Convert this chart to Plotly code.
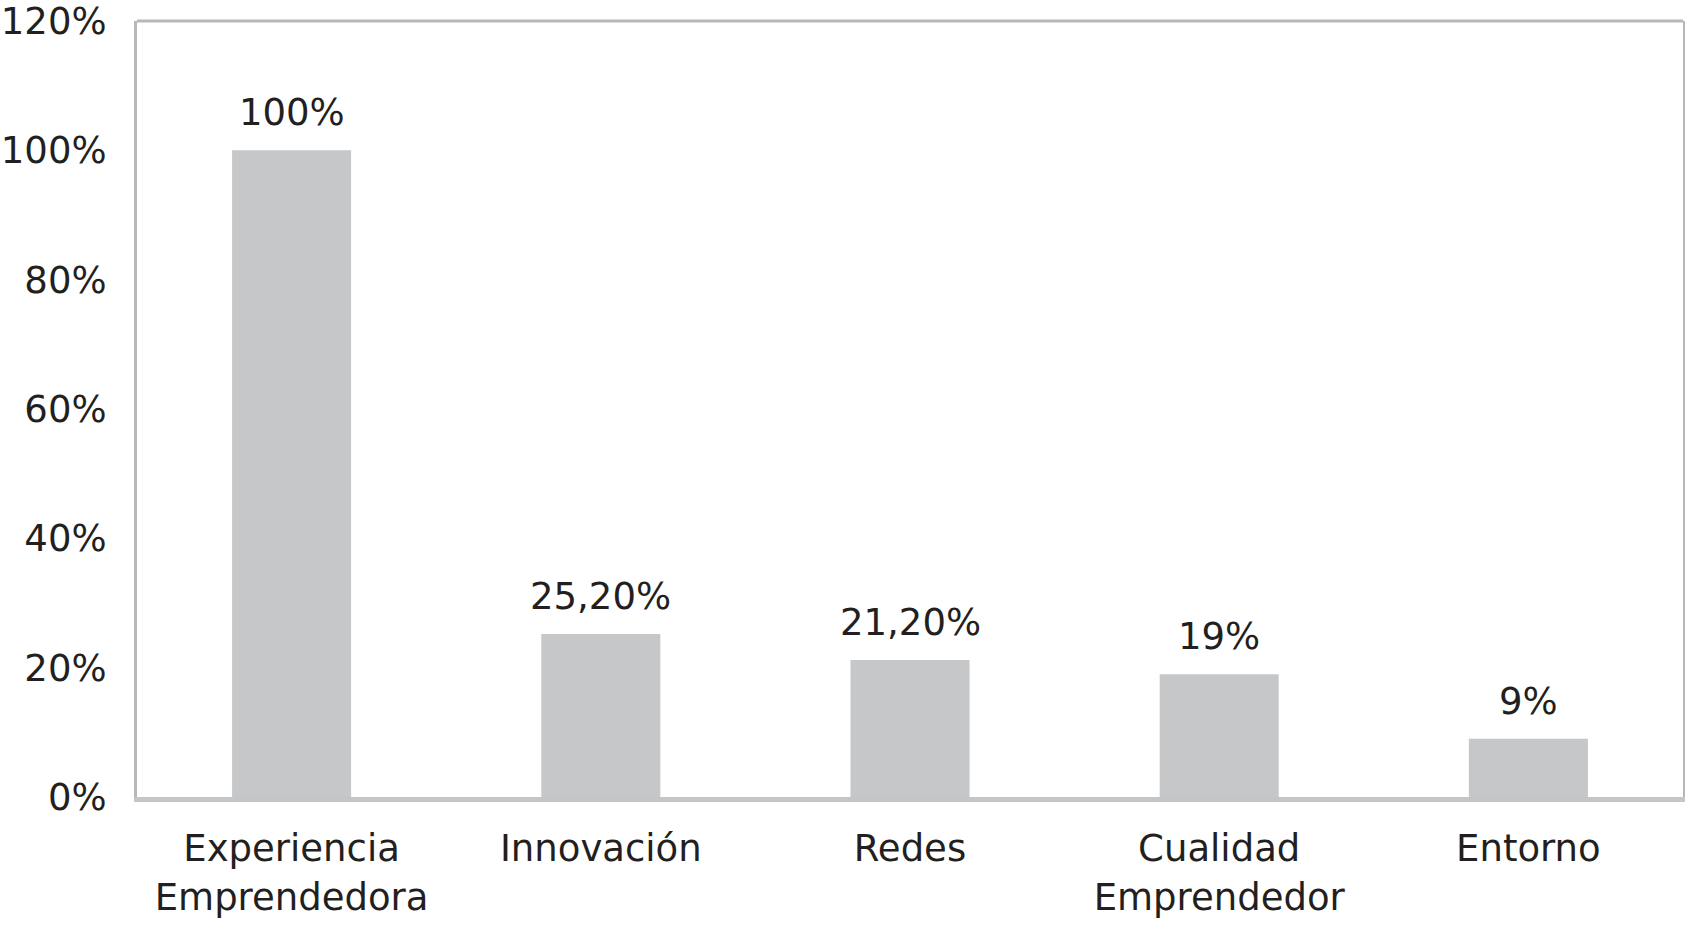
import plotly.graph_objects as go

categories = ["Experiencia<br>Emprendedora", "Innovación", "Redes", "Cualidad<br>Emprendedor", "Entorno"]
values = [100, 25.2, 21.2, 19, 9]
value_labels = ["100%", "25,20%", "21,20%", "19%", "9%"]
tick_vals = [0, 20, 40, 60, 80, 100, 120]
tick_text = ["0%", "20%", "40%", "60%", "80%", "100%", "120%"]

FONT = "DejaVu Sans"
TXT = "#231f20"
BAR = "#c6c7c9"
FRAME = "#b8b8b8"

fig = go.Figure()
fig.add_trace(go.Bar(
    x=categories, y=values,
    marker=dict(color=BAR, line=dict(width=0)),
    hoverinfo="skip",
))

for c, v, t in zip(categories, values, value_labels):
    fig.add_annotation(
        x=c, y=v, text=t, showarrow=False,
        xanchor="center", yanchor="bottom", yshift=14,
        font=dict(family=FONT, size=37, color=TXT),
    )

# top frame line
fig.add_shape(type="line", xref="paper", yref="paper", x0=0, x1=1, y0=1, y1=1,
              line=dict(color=FRAME, width=3))

fig.update_layout(
    width=1685, height=931,
    margin=dict(l=137, r=2, t=21, b=134, autoexpand=False),
    paper_bgcolor="white", plot_bgcolor="white",
    showlegend=False,
    bargap=0.615,
    font=dict(family=FONT, size=37, color=TXT),
    xaxis=dict(
        showline=True, linecolor="#c4c5c7", linewidth=5,
        showgrid=False, ticks="", tickfont=dict(family=FONT, size=37, color=TXT),
        ticklabelstandoff=15, automargin=False,
    ),
    yaxis=dict(
        range=[0, 120], tickvals=tick_vals, ticktext=tick_text,
        showline=True, mirror=True, linecolor=FRAME, linewidth=3,
        showgrid=False, zeroline=False, ticks="",
        tickfont=dict(family=FONT, size=37, color=TXT),
        ticklabelstandoff=20, automargin=False, ticklabeloverflow="allow",
    ),
)

fig.write_html(
    "out.html",
    config={"displayModeBar": False},
    post_script="document.body.style.margin='0px';document.body.style.overflow='hidden';",
)
